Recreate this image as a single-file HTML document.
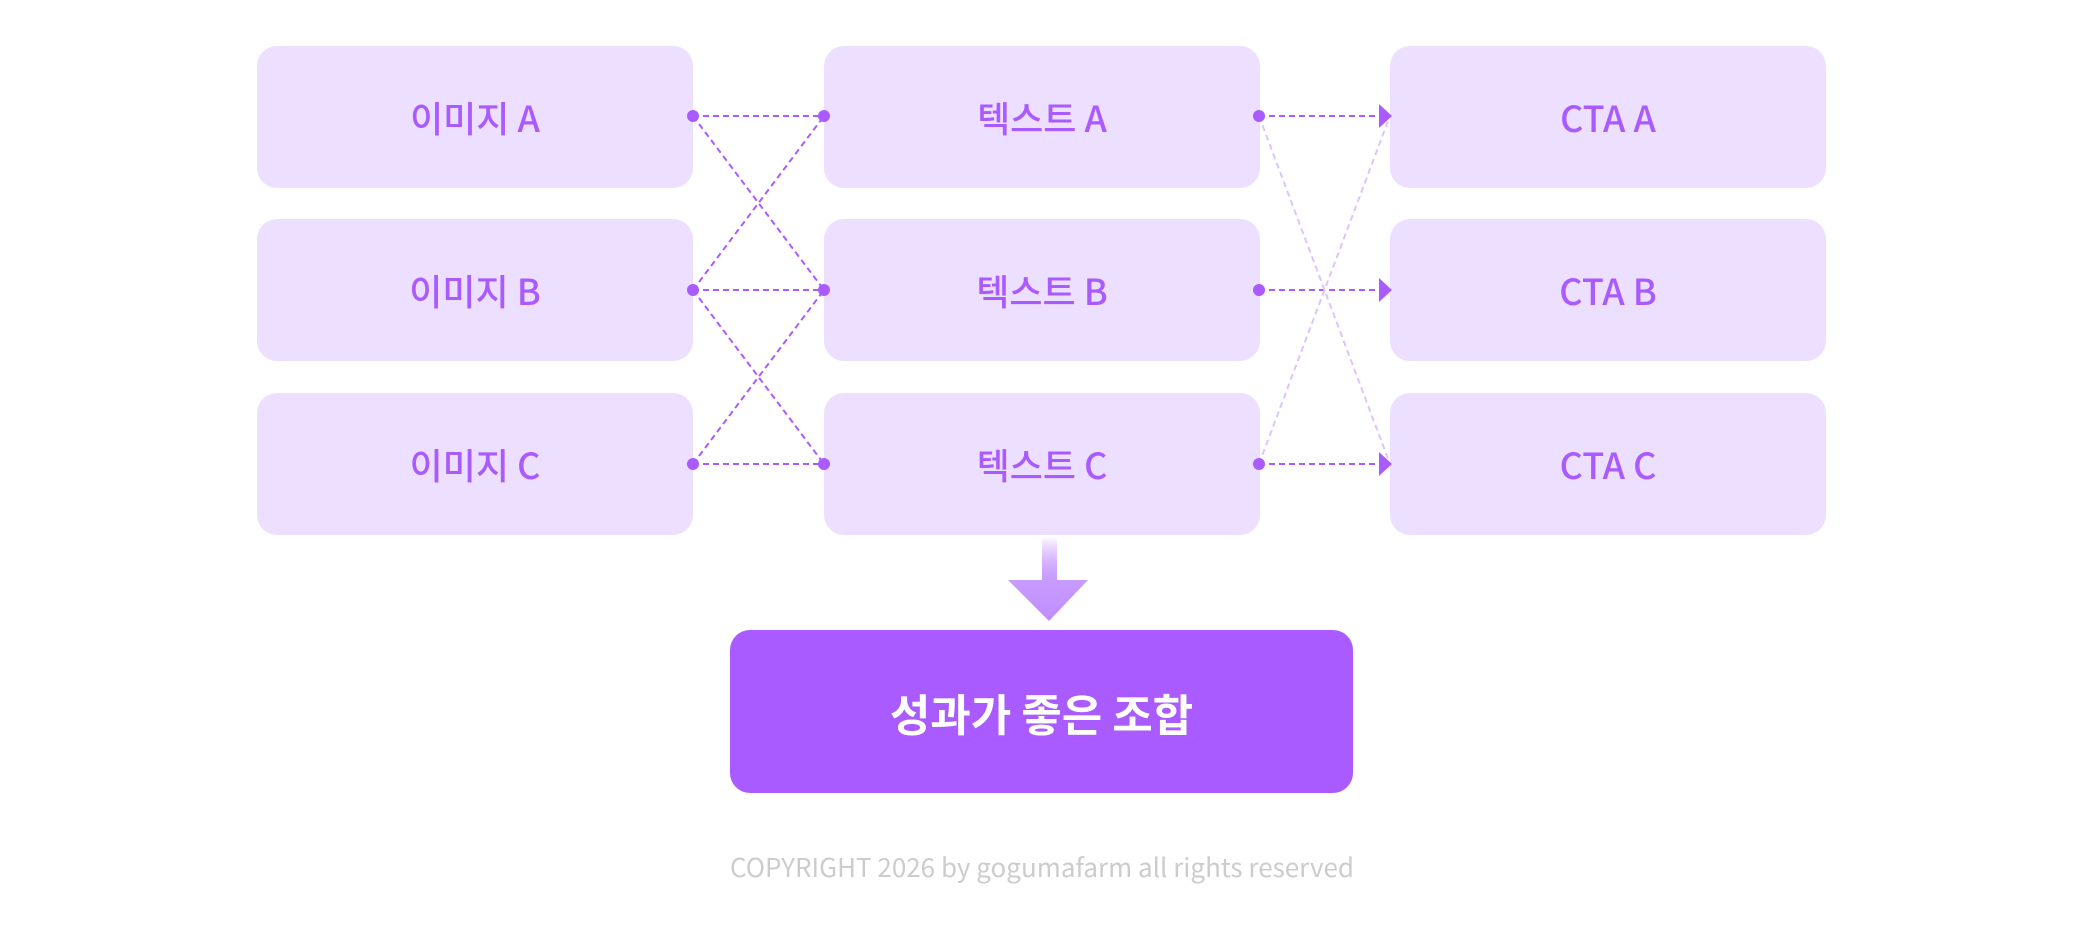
<!DOCTYPE html>
<html><head><meta charset="utf-8"><style>
body{margin:0;width:2084px;height:927px;background:#fff;position:relative;overflow:hidden;font-family:"Noto Sans CJK KR","Liberation Sans",sans-serif}
.b{position:absolute;width:436px;height:142px;background:#eddfff;border-radius:20px;display:flex;align-items:center;justify-content:center;color:#a95bff;font-size:36px;font-weight:500;line-height:1}
.c1{left:257px}.c2{left:824px}.c3{left:1390px}
.r1{top:46px}.r2{top:219px}.r3{top:393px}
</style></head><body>
<div class="b c1 r1">이미지 A</div><div class="b c1 r2">이미지 B</div><div class="b c1 r3">이미지 C</div>
<div class="b c2 r1">텍스트 A</div><div class="b c2 r2">텍스트 B</div><div class="b c2 r3">텍스트 C</div>
<div class="b c3 r1">CTA A</div><div class="b c3 r2">CTA B</div><div class="b c3 r3">CTA C</div>
<svg width="2084" height="927" style="position:absolute;left:0;top:0">
<defs><linearGradient id="g" x1="0" y1="0" x2="0" y2="1"><stop offset="0" stop-color="#a95bff" stop-opacity="0.05"/><stop offset="0.5" stop-color="#c89cff"/><stop offset="1" stop-color="#c08dff"/></linearGradient></defs>
<g stroke="#a95bff" stroke-width="2" stroke-dasharray="6,4" fill="none">
<line x1="693" y1="116" x2="824" y2="116"/><line x1="693" y1="290" x2="824" y2="290"/><line x1="693" y1="464" x2="824" y2="464"/>
<line x1="693" y1="116" x2="824" y2="290"/><line x1="693" y1="290" x2="824" y2="116"/>
<line x1="693" y1="290" x2="824" y2="464"/><line x1="693" y1="464" x2="824" y2="290"/>
<line x1="1259" y1="116" x2="1384" y2="116"/><line x1="1259" y1="290" x2="1384" y2="290"/><line x1="1259" y1="464" x2="1384" y2="464"/>
</g>
<g stroke="#dcc4ff" stroke-width="2" stroke-dasharray="6,4" fill="none">
<line x1="1259" y1="116" x2="1390" y2="464"/><line x1="1259" y1="464" x2="1390" y2="116"/>
</g>
<g fill="#a95bff">
<circle cx="693" cy="116" r="6"/><circle cx="693" cy="290" r="6"/><circle cx="693" cy="464" r="6"/>
<circle cx="824" cy="116" r="6"/><circle cx="824" cy="290" r="6"/><circle cx="824" cy="464" r="6"/>
<circle cx="1259" cy="116" r="6"/><circle cx="1259" cy="290" r="6"/><circle cx="1259" cy="464" r="6"/>
<polygon points="1379,104 1392,116 1379,128"/><polygon points="1379,278 1392,290 1379,302"/><polygon points="1379,452 1392,464 1379,476"/>
</g>
<path d="M1042 538 H1057 V580 H1088 L1049 621 L1008 580 H1042 Z" fill="url(#g)"/>
</svg>
<div style="position:absolute;left:730px;top:630px;width:623px;height:163px;background:#a95bff;border-radius:20px;display:flex;align-items:center;justify-content:center;color:#fff;font-size:44px;font-weight:bold;line-height:1">성과가 좋은 조합</div>
<div style="position:absolute;left:700px;width:684px;top:850px;text-align:center;color:#cccccc;font-size:26px;line-height:34px">COPYRIGHT 2026 by gogumafarm all rights reserved</div>
</body></html>
